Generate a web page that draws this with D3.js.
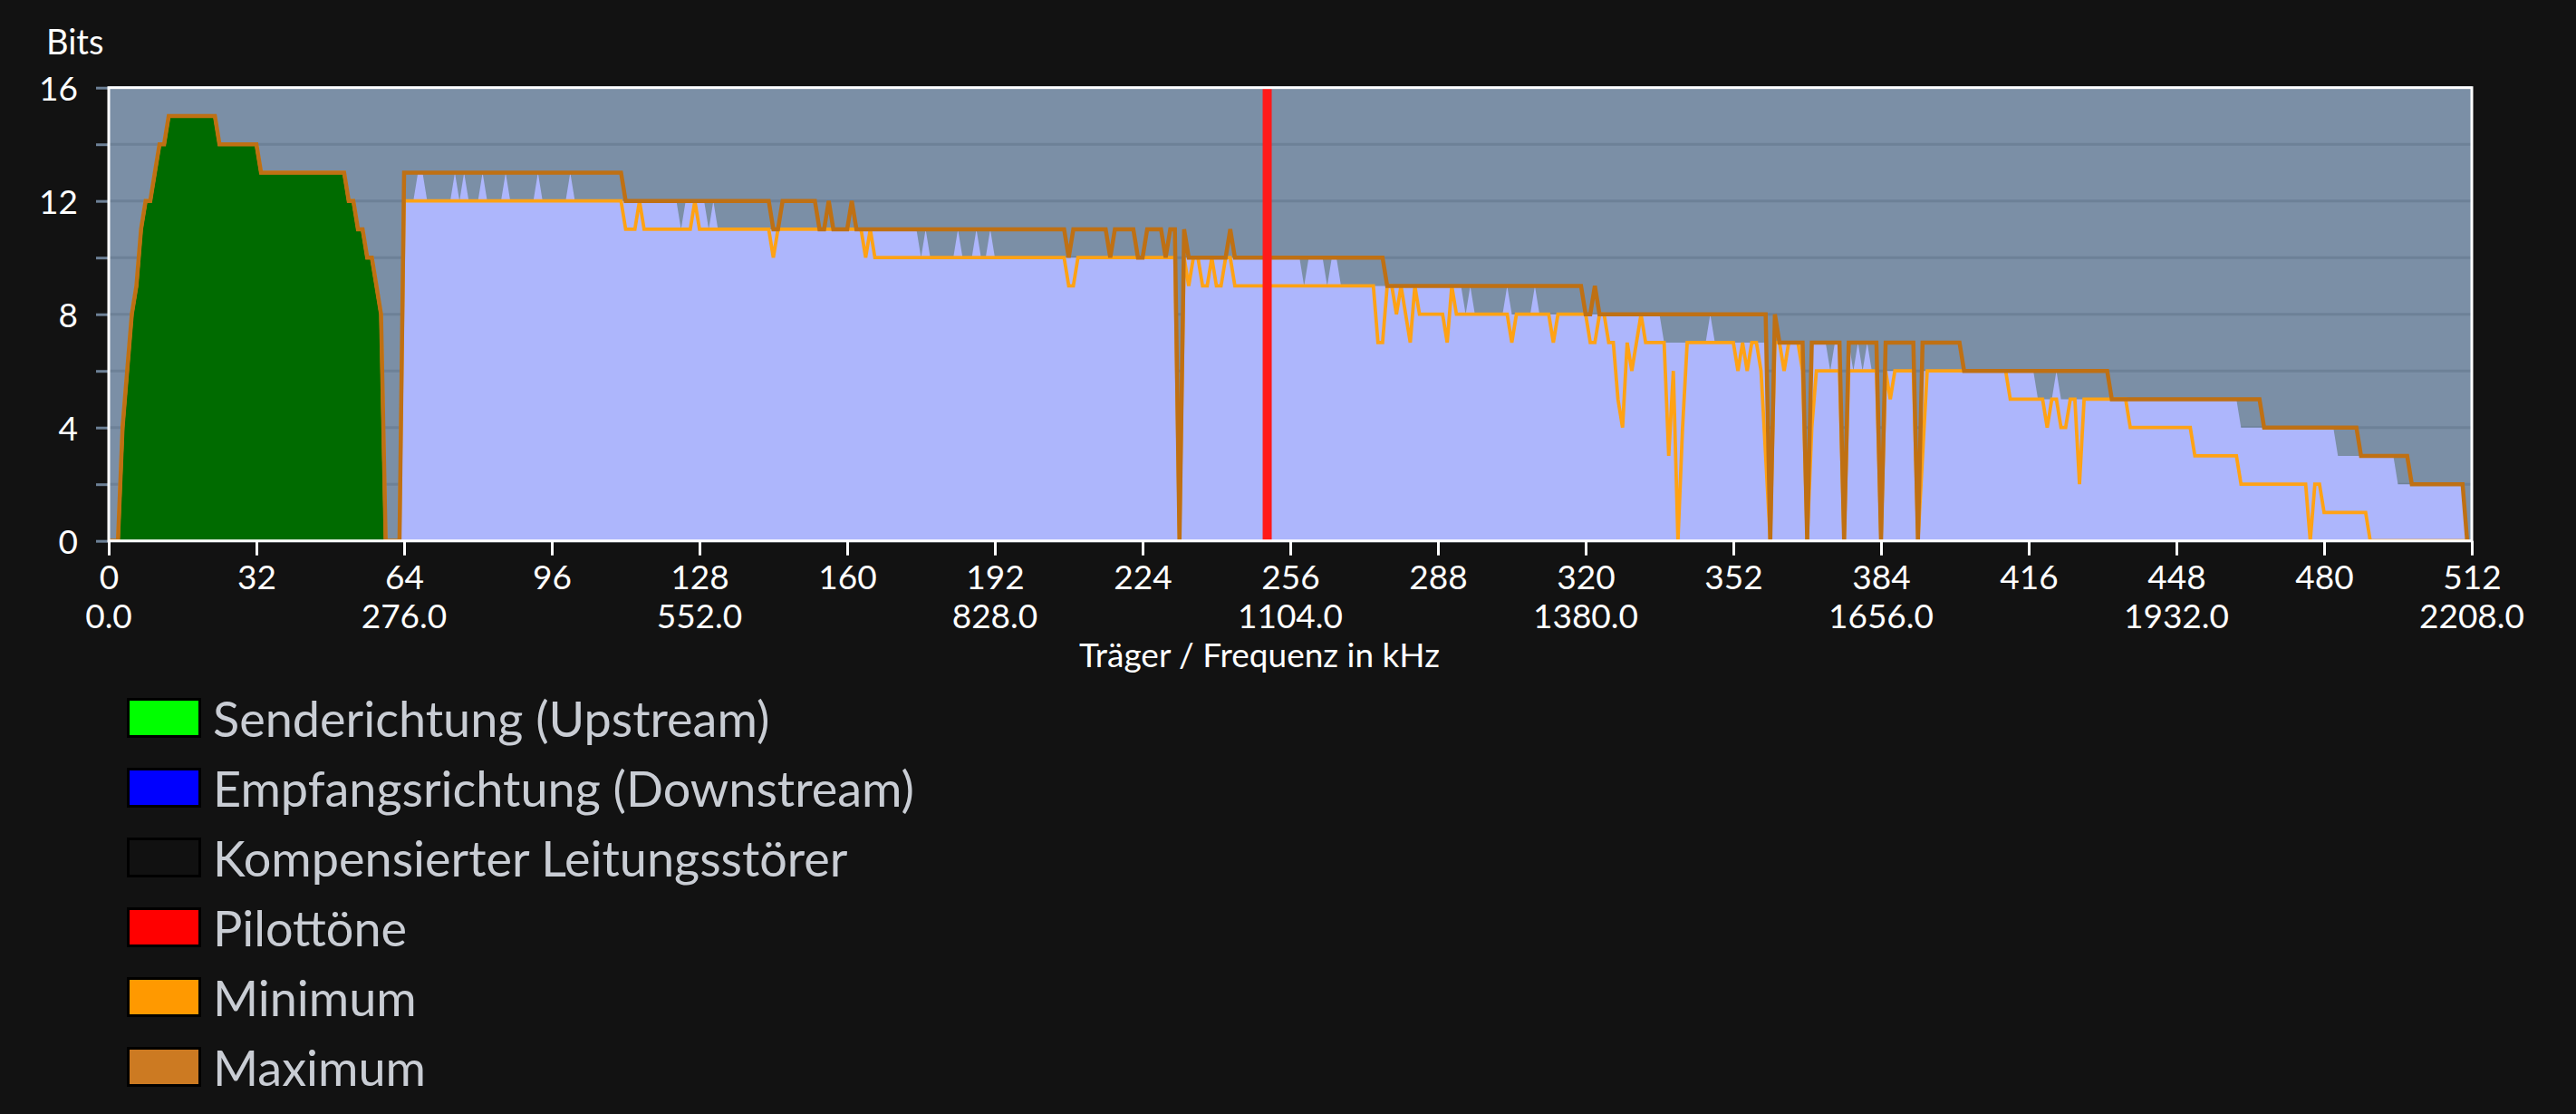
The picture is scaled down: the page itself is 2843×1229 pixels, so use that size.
<!DOCTYPE html>
<html><head><meta charset="utf-8">
<script src="https://cdn.jsdelivr.net/npm/d3@7"></script>
<style>
html,body{margin:0;padding:0;background:#121212;}
svg{display:block;}
text{font-family:Lato,'Noto Sans',sans-serif;}
</style></head><body>
<svg id="chart" width="2843" height="1229"></svg>
<script>
// ---------- DATA (bits per carrier, run-length: [startCarrier, bits]) ----------
const carrierCount = 512;

const upstreamRuns = [[0,0],[3,4],[4,6],[5,8],[6,9],[7,11],[8,12],[10,13],[11,14],[13,15],[24,14],[33,13],[52,12],[54,11],[56,10],[58,9],[59,8],[60,0]];

const downstreamRuns = [[63,0],[64,12],[67,13],[69,12],[75,13],[76,12],[77,13],[78,12],[81,13],[82,12],[86,13],[87,12],[93,13],[94,12],[100,13],[101,12],
  [124,11],[125,12],[130,11],[131,12],[132,11],[176,10],[177,11],[178,10],[184,11],[185,10],[188,11],[189,10],[191,11],[192,10],
  [232,0],[233,10],[259,9],[260,10],[264,9],[265,10],[267,9],[294,8],[295,9],[296,8],[303,9],[304,8],[309,9],[310,8],
  [337,7],[347,8],[348,7],[360,0],[361,7],[368,0],[369,7],[373,6],[374,7],[376,0],[377,7],[378,6],[379,7],[380,6],[381,7],[382,6],
  [384,0],[385,6],[392,0],[393,6],[418,5],[422,6],[423,5],[462,4],[483,3],[496,2],[511,0]];

const maxRuns = [[63,0],[64,13],[112,12],[144,11],[146,12],[154,11],[156,12],[157,11],[161,12],[162,11],[208,10],[209,11],[217,10],[218,11],
  [223,10],[225,11],[229,10],[230,11],[232,0],[233,11],[234,10],[243,11],[244,10],[277,9],[320,8],[322,9],[323,8],[360,0],[361,8],[362,7],
  [368,0],[369,7],[376,0],[377,7],[384,0],[385,7],[392,0],[393,7],[402,6],[434,5],[467,4],[488,3],[499,2],[511,0]];

const minRuns = [[63,0],[64,12],[112,11],[115,12],[116,11],[127,12],[128,11],[144,10],[145,11],[164,10],[165,11],[166,10],[208,9],[210,10],
  [232,0],[233,10],[234,9],[235,10],[237,9],[239,10],[240,9],[242,10],[244,9],[275,7],[277,9],[279,8],[280,9],[281,8],[282,7],[283,9],
  [284,8],[290,7],[291,9],[292,8],[304,7],[305,8],[313,7],[314,8],[321,7],[323,8],[325,7],[327,5],[328,4],[329,7],[330,6],[331,7],[332,8],
  [333,7],[338,3],[339,6],[340,0],[341,4],[342,7],[353,6],[354,7],[355,6],[356,7],[358,6],[359,3],[360,0],[361,7],[363,6],[364,7],[367,6],
  [368,0],[369,4],[370,6],[376,0],[377,6],[384,0],[385,6],[386,5],[387,6],[392,0],[393,3],[394,6],[412,5],[420,4],[421,5],[423,4],[425,5],
  [427,2],[428,5],[438,4],[452,3],[462,2],[477,0],[478,2],[480,1],[490,0]];

const pilotTones = [251];

const yTickValues = [0,2,4,6,8,10,12,14,16];
const yTickLabels = ["0","","4","","8","","12","","16"];
const xTickValues = [0,32,64,96,128,160,192,224,256,288,320,352,384,416,448,480,512];
const freqTickValues = [0,64,128,192,256,320,384,448,512];
const freqTickLabels = ["0.0","276.0","552.0","828.0","1104.0","1380.0","1656.0","1932.0","2208.0"];

const legendLabels = ["Senderichtung (Upstream)","Empfangsrichtung (Downstream)","Kompensierter Leitungsstörer","Pilottöne","Minimum","Maximum"];
const legendColors = ["#00ff00","#0000ff","#111111","#ff0000","#ff9900","#cc7a22"];

// ---------- BUILD PER-CARRIER TABLES ----------
function expand(runs, n){
  const out = new Array(n).fill(0);
  let k = -1;
  for (let c = 0; c < n; c++){
    while (k + 1 < runs.length && runs[k+1][0] <= c) k++;
    out[c] = k >= 0 ? runs[k][1] : 0;
  }
  return out;
}
const up = expand(upstreamRuns, carrierCount).map((v,c)=> c < 64 ? v : 0);
const down = expand(downstreamRuns, carrierCount);
const maxDs = expand(maxRuns, carrierCount);
const minDs = expand(minRuns, carrierCount);
const maxAll = d3.range(carrierCount).map(c => c < 63 ? up[c] : maxDs[c]);
const minAll = d3.range(carrierCount).map(c => c < 63 ? up[c] : minDs[c]);

// ---------- LAYOUT ----------
const svg = d3.select("#chart");
const X0 = 120, X1 = 2728, YT = 96.7, YB = 596.7;
const x = d3.scaleLinear().domain([0, 512]).range([X0, X1]);
const y = d3.scaleLinear().domain([0, 16]).range([YB, YT]);

svg.append("defs").append("clipPath").attr("id","plotclip")
  .append("rect").attr("x",X0).attr("y",YT).attr("width",X1-X0).attr("height",YB-YT);

// background
svg.append("rect").attr("x",X0).attr("y",YT).attr("width",X1-X0).attr("height",YB-YT).attr("fill","#7b8fa6");

// y axis (ticks extend as gridlines)
const yAxis = d3.axisLeft(y).tickValues(yTickValues).tickSize(14).tickPadding(20)
  .tickFormat((d,i)=>yTickLabels[i]);
const gy = svg.append("g").attr("transform",`translate(${X0},0)`).call(yAxis);
gy.select(".domain").remove();
gy.selectAll(".tick line").attr("stroke","#6d8197").attr("stroke-width",3);
gy.selectAll(".tick text").attr("fill","#ffffff").style("font-size","37px").attr("dy","0.36em");

// grid
svg.append("g").selectAll("line").data(yTickValues).join("line")
  .attr("x1",X0).attr("x2",X1).attr("y1",d=>y(d)).attr("y2",d=>y(d))
  .attr("stroke","#6d8197").attr("stroke-width",3);

const plot = svg.append("g").attr("clip-path","url(#plotclip)");

// downstream area
plot.append("path")
  .datum(d3.range(63, carrierCount))
  .attr("fill","#adb6fc")
  .attr("d", d3.area().x(c=>x(c)).y0(y(0)).y1(c=>y(down[c])));

// upstream area
plot.append("path")
  .datum(d3.range(0, 64))
  .attr("fill","#006b00")
  .attr("d", d3.area().x(c=>x(c)).y0(y(0)).y1(c=>y(up[c])));

// min line
plot.append("path")
  .datum(d3.range(0, carrierCount))
  .attr("fill","none").attr("stroke","#ffa214").attr("stroke-width",3.8)
  .attr("d", d3.line().x(c=>x(c)).y(c=>y(minAll[c])));

// max line
plot.append("path")
  .datum(d3.range(0, carrierCount))
  .attr("fill","none").attr("stroke","#bf7013").attr("stroke-width",4.5)
  .attr("d", d3.line().x(c=>x(c)).y(c=>y(maxAll[c])));

// pilot tones
plot.selectAll("rect.pilot").data(pilotTones).join("rect").attr("class","pilot")
  .attr("x",d=>x(d)-5).attr("width",10).attr("y",YT).attr("height",YB-YT).attr("fill","#ff1a1a");

// frame
svg.append("rect").attr("x",X0).attr("y",YT).attr("width",X1-X0).attr("height",YB-YT)
  .attr("fill","none").attr("stroke","#ffffff").attr("stroke-width",3);

// x axis
const xAxis = d3.axisBottom(x).tickValues(xTickValues).tickSize(16).tickPadding(11).tickFormat(d=>d);
const gx = svg.append("g").attr("transform",`translate(0,${YB})`).call(xAxis);
gx.select(".domain").remove();
gx.selectAll(".tick line").attr("stroke","#ffffff").attr("stroke-width",3);
gx.selectAll(".tick text").attr("fill","#ffffff").style("font-size","37px");

// frequency labels
svg.append("g").selectAll("text").data(freqTickValues).join("text")
  .attr("x",d=>x(d)).attr("y",693).attr("text-anchor","middle")
  .attr("fill","#ffffff").style("font-size","37px")
  .text((d,i)=>freqTickLabels[i]);

// axis titles
svg.append("text").attr("x",1390).attr("y",736).attr("text-anchor","middle")
  .attr("fill","#ffffff").style("font-size","37px").text("Träger / Frequenz in kHz");
svg.append("text").attr("x",51).attr("y",60)
  .attr("fill","#ffffff").style("font-size","38px").text("Bits");

// legend
const lg = svg.append("g").selectAll("g").data(legendLabels).join("g")
  .attr("transform",(d,i)=>`translate(140,${770 + i*77})`);
lg.append("rect").attr("x",1.5).attr("y",1.5).attr("width",79).attr("height",41)
  .attr("fill",(d,i)=>legendColors[i]).attr("stroke","#000").attr("stroke-width",3);
lg.append("text").attr("x",95).attr("y",43).attr("fill","#c9cdd4").style("font-size","54px").text(d=>d);
</script>
</body></html>
